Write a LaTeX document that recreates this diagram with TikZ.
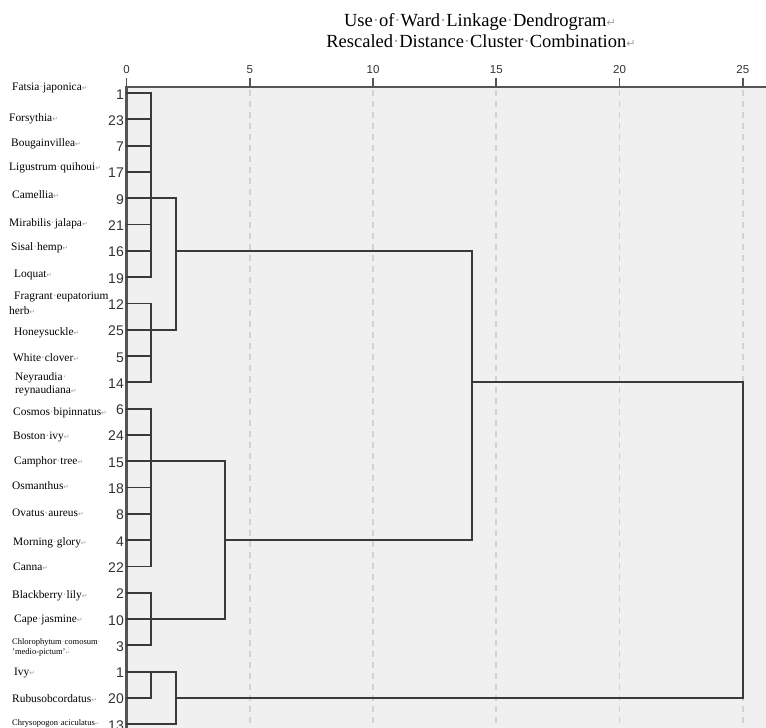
\documentclass[tikz,border=0pt]{standalone}
\usepackage{fontspec}
\setmainfont{Liberation Serif}
\setsansfont{Liberation Sans}
\newfontfamily\symfont{DejaVu Sans}
\definecolor{panel}{HTML}{F0F0F0}
\definecolor{lin}{HTML}{3A3A3A}
\definecolor{axis}{HTML}{555555}
\definecolor{gridc}{HTML}{D2D2D2}
\definecolor{markc}{HTML}{A0A0A0}
\definecolor{numc}{HTML}{333333}
\newcommand\ret{{\color{markc}\scalebox{0.6}{\symfont ↵}}}
\newcommand\ws{{\color{markc}·}}
\tikzset{
  den/.style={draw=lin, line width=1.8pt, line cap=rect, line join=miter},
  gridline/.style={draw=gridc, line width=1.6pt, dash pattern=on 6pt off 5pt},
  lab/.style={anchor=west, inner sep=0pt, font=\fontsize{11.4}{13}\selectfont, text height=9pt, text depth=1.5pt},
  smalllab/.style={anchor=west, inner sep=0pt, font=\fontsize{8.5}{10}\selectfont, text height=6.5pt, text depth=1pt},
  num/.style={anchor=east, inner sep=0pt, text=numc, font=\sffamily\fontsize{14}{14}\selectfont, text height=10pt, text depth=0pt},
  ticklab/.style={anchor=base, inner sep=0pt, text=numc, font=\sffamily\fontsize{11.5}{12}\selectfont},
  titlestyle/.style={anchor=base, inner sep=0pt, font=\fontsize{18.5}{20}\selectfont}
}
\begin{document}
\begin{tikzpicture}[x=1pt,y=-1pt]
\useasboundingbox (0,0) rectangle (766,728);
\fill[white] (0,0) rectangle (766,728);
\fill[panel] (126.5,87) rectangle (766,728);
% grid and ticks
\foreach \d in {5,10,15,20,25}{
  \draw[gridline] ({126.5+24.65*\d},90) -- ({126.5+24.65*\d},728);
}
\foreach \d in {0,5,10,15,20,25}{
  \draw[draw=axis, line width=1.8pt] ({126.5+24.65*\d},78) -- ({126.5+24.65*\d},87);
  \node[ticklab] (t\d) at ({126.5+24.65*\d},73) {\d};
}
\draw[draw=axis, line width=2.2pt] (126.5,87) -- (766,87);
\draw[draw=axis, line width=2.4pt] (126.5,86) -- (126.5,728);
% title
\node[titlestyle] (title1) at (480,26) {Use\ws of\ws Ward\ws Linkage\ws Dendrogram\ret};
\node[titlestyle] (title2) at (481,47.5) {Rescaled\ws Distance\ws Cluster\ws Combination\ret};
% cluster x positions
\coordinate (xA) at (151.15,0);
\coordinate (xB) at (175.8,0);
\coordinate (xC) at (225.1,0);
\coordinate (xD) at (471.6,0);
\coordinate (xE) at (742.75,0);
% leaves
\foreach \n [count=\i] in {1,23,7,17,9,21,16,19,12,25,5,14,6,24,15,18,8,4,22,2,10,3,1,20,13}{
  \coordinate (l\i) at (126.5,{93+26.3*(\i-1)});
  \node[num] (n\i) at (124,{94+26.3*(\i-1)}) {\n};
}
% labels
\node[lab] (lab1) at (12,87) {Fatsia\ws japonica\ret};
\node[lab] (lab2) at (9,118) {Forsythia\ret};
\node[lab] (lab3) at (11,143) {Bougainvillea\ret};
\node[lab] (lab4) at (9,167) {Ligustrum\ws quihoui\ret};
\node[lab] (lab5) at (12,195) {Camellia\ret};
\node[lab] (lab6) at (9,223) {Mirabilis\ws jalapa\ret};
\node[lab] (lab7) at (11,247) {Sisal\ws hemp\ret};
\node[lab] (lab8) at (14,274) {Loquat\ret};
\node[lab] (lab9a) at (14,296) {Fragrant\ws eupatorium};
\node[lab] (lab9b) at (9,311) {herb\ret};
\node[lab] (lab10) at (14,332) {Honeysuckle\ret};
\node[lab] (lab11) at (13,358) {White\ws clover\ret};
\node[lab] (lab12a) at (15,377) {Neyraudia\ws};
\node[lab] (lab12b) at (15,390) {reynaudiana\ret};
\node[lab] (lab13) at (13,412) {Cosmos\ws bipinnatus\ret};
\node[lab] (lab14) at (13,436) {Boston\ws ivy\ret};
\node[lab] (lab15) at (14,461) {Camphor\ws tree\ret};
\node[lab] (lab16) at (12,486) {Osmanthus\ret};
\node[lab] (lab17) at (12,513) {Ovatus\ws aureus\ret};
\node[lab] (lab18) at (13,542) {Morning\ws glory\ret};
\node[lab] (lab19) at (13,567) {Canna\ret};
\node[lab] (lab20) at (12,595) {Blackberry\ws lily\ret};
\node[lab] (lab21) at (14,619) {Cape\ws jasmine\ret};
\node[smalllab] (lab22a) at (12,642) {Chlorophytum\ws comosum\ws};
\node[smalllab] (lab22b) at (12,652) {'medio-pictum'\ret};
\node[lab] (lab23) at (14,672) {Ivy\ret};
\node[lab] (lab24) at (12,699) {Rubusobcordatus\ret};
\node[smalllab] (lab25) at (12,723) {Chrysopogon\ws aciculatus\ret};
% cluster A: rows 1-8
\foreach \i in {1,...,8} \draw[den] (l\i) -- (l\i -| xA);
\draw[den] (l1 -| xA) -- (l8 -| xA);
% cluster B: rows 9-12
\foreach \i in {9,...,12} \draw[den] (l\i) -- (l\i -| xA);
\draw[den] (l9 -| xA) -- (l12 -| xA);
% A+B at 2
\draw[den] (l5 -| xA) -- (l5 -| xB) -- (l10 -| xB) -- (l10 -| xA);
\draw[den] (l7 -| xB) -- (l7 -| xD);
% cluster C: rows 13-19
\foreach \i in {13,...,19} \draw[den] (l\i) -- (l\i -| xA);
\draw[den] (l13 -| xA) -- (l19 -| xA);
% cluster D: rows 20-22
\foreach \i in {20,...,22} \draw[den] (l\i) -- (l\i -| xA);
\draw[den] (l20 -| xA) -- (l22 -| xA);
% C+D at 4
\draw[den] (l15 -| xA) -- (l15 -| xC) -- (l21 -| xC) -- (l21 -| xA);
\draw[den] (l18 -| xC) -- (l18 -| xD);
% (A+B)+(C+D) at 14
\draw[den] (l7 -| xD) -- (l18 -| xD);
\draw[den] (l12 -| xD) -- (l12 -| xE);
% cluster E: rows 23-25
\draw[den] (l23) -- (l23 -| xB);
\draw[den] (l24) -- (l24 -| xA);
\draw[den] (l25) -- (l25 -| xB);
\draw[den] (l23 -| xA) -- (l24 -| xA);
\draw[den] (l23 -| xB) -- (l25 -| xB);
\draw[den] (l24 -| xB) -- (l24 -| xE);
% final merge at 25
\draw[den] (l12 -| xE) -- (l24 -| xE);
\end{tikzpicture}
\end{document}
